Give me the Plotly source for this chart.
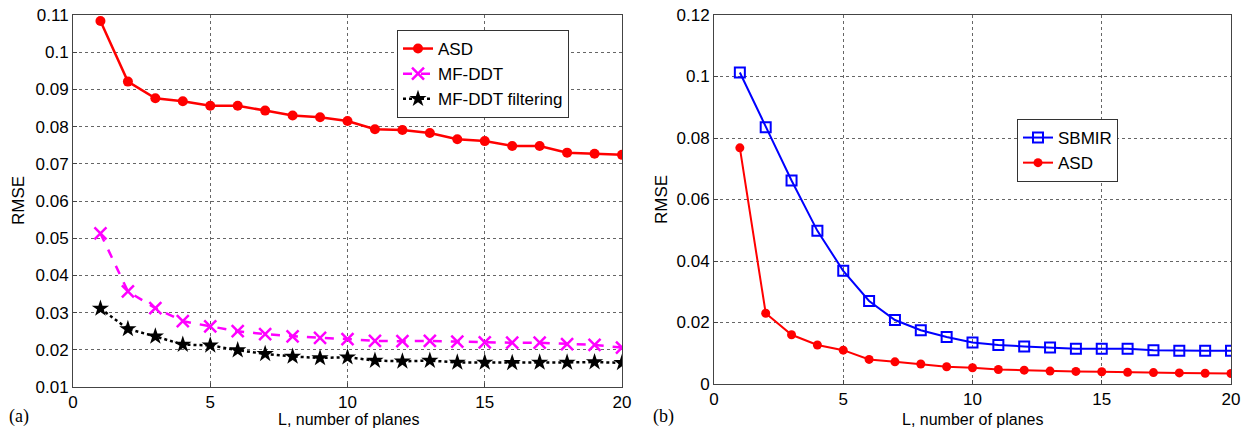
import plotly.graph_objects as go

# ---- data ----
L = list(range(1, 21))

asd_a = [0.1084, 0.0921, 0.0876, 0.0868, 0.0856, 0.0856, 0.0843, 0.0830, 0.0825, 0.0815,
         0.0793, 0.0791, 0.0783, 0.0766, 0.0761, 0.0748, 0.0748, 0.0730, 0.0727, 0.0724]
mfddt_a = [0.0513, 0.0357, 0.0312, 0.0277, 0.0263, 0.0250, 0.0242, 0.0236, 0.0232, 0.0229,
           0.0224, 0.0223, 0.0224, 0.0222, 0.0220, 0.0219, 0.0219, 0.0215, 0.0213, 0.0206]
mfddt_filt_a = [0.0311, 0.0256, 0.0236, 0.0214, 0.0212, 0.0199, 0.0189, 0.0182, 0.0178, 0.0180,
                0.0171, 0.0169, 0.0171, 0.0166, 0.0166, 0.0165, 0.0166, 0.0166, 0.0167, 0.0165]

sbmir_b = [0.1013, 0.0835, 0.0662, 0.0498, 0.0368, 0.0270, 0.0208, 0.0175, 0.0153, 0.0135,
           0.0127, 0.0122, 0.0119, 0.0115, 0.0115, 0.0115, 0.0110, 0.0108, 0.0108, 0.0108]
asd_b = [0.0768, 0.0230, 0.0160, 0.0127, 0.0110, 0.0080, 0.0072, 0.0065, 0.0056, 0.0053,
         0.0047, 0.0045, 0.0042, 0.0041, 0.0040, 0.0038, 0.0037, 0.0036, 0.0035, 0.0034]

x_ticks = [0, 5, 10, 15, 20]
y_ticks_a = [0.01, 0.02, 0.03, 0.04, 0.05, 0.06, 0.07, 0.08, 0.09, 0.1, 0.11]
y_ticks_b = [0, 0.02, 0.04, 0.06, 0.08, 0.1, 0.12]

FONT = "Liberation Sans, Arial, sans-serif"
SERIF = "Liberation Serif, Times New Roman, serif"

fig = go.Figure()

fig.add_trace(go.Scatter(x=L, y=asd_a, name="ASD", mode="lines+markers",
                         line=dict(color="#ff0000", width=2.5),
                         marker=dict(symbol="circle", size=10, color="#ff0000"),
                         xaxis="x", yaxis="y", legend="legend"))
fig.add_trace(go.Scatter(x=L, y=mfddt_a, name="MF-DDT", mode="lines+markers",
                         line=dict(color="#ff00ff", width=2.5, dash="dash"),
                         marker=dict(symbol="x-thin-open", size=12, color="#ff00ff",
                                     line=dict(color="#ff00ff", width=2.5)),
                         xaxis="x", yaxis="y", legend="legend"))
fig.add_trace(go.Scatter(x=L, y=mfddt_filt_a, name="MF-DDT filtering", mode="lines+markers",
                         line=dict(color="#000000", width=2.5, dash="dot"),
                         marker=dict(symbol="star", size=13, color="#000000"),
                         xaxis="x", yaxis="y", legend="legend"))

fig.add_trace(go.Scatter(x=L, y=sbmir_b, name="SBMIR", mode="lines+markers",
                         line=dict(color="#0000ff", width=2),
                         marker=dict(symbol="square-open", size=10, color="#0000ff",
                                     line=dict(color="#0000ff", width=2)),
                         xaxis="x2", yaxis="y2", legend="legend2"))
fig.add_trace(go.Scatter(x=L, y=asd_b, name="ASD", mode="lines+markers",
                         line=dict(color="#ff0000", width=2),
                         marker=dict(symbol="circle", size=9, color="#ff0000"),
                         xaxis="x2", yaxis="y2", legend="legend2"))

W, H = 1255, 429
ax_common = dict(showline=True, mirror=True, linecolor="#444444", linewidth=1,
                 showgrid=True, gridcolor="#666666", griddash="dot", gridwidth=1,
                 zeroline=False, ticks="inside", ticklen=4, tickcolor="#444444",
                 automargin=False,
                 tickfont=dict(family=FONT, size=17, color="#000000"))

fig.update_layout(
    width=W, height=H,
    margin=dict(l=0, r=0, t=0, b=0, autoexpand=False),
    paper_bgcolor="white", plot_bgcolor="white",
    showlegend=True,
    xaxis=dict(domain=[73 / W, 622 / W], range=[0, 20], tickvals=x_ticks,
               anchor="y", **ax_common),
    yaxis=dict(domain=[1 - 387 / H, 1 - 15 / H], range=[0.01, 0.11], tickvals=y_ticks_a,
               ticktext=[f"{v:g}" for v in y_ticks_a], anchor="x", **ax_common),
    xaxis2=dict(domain=[714 / W, 1231 / W], range=[0, 20], tickvals=x_ticks,
                anchor="y2", **ax_common),
    yaxis2=dict(domain=[1 - 384 / H, 1 - 15 / H], range=[0, 0.12], tickvals=y_ticks_b,
                ticktext=[f"{v:g}" for v in y_ticks_b], anchor="x2", **ax_common),
    legend=dict(x=397 / W, y=1 - 30 / H, xanchor="left", yanchor="top",
                bgcolor="white", bordercolor="#333333", borderwidth=1,
                font=dict(family=FONT, size=17, color="#000000"),
                tracegroupgap=0, itemwidth=30),
    legend2=dict(x=1017 / W, y=1 - 119 / H, xanchor="left", yanchor="top",
                 bgcolor="white", bordercolor="#333333", borderwidth=1,
                 font=dict(family=FONT, size=17, color="#000000"),
                 tracegroupgap=0, itemwidth=30),
)

annos = [
    dict(text="RMSE", x=18 / W, y=1 - 201 / H, textangle=-90,
         font=dict(family=FONT, size=17)),
    dict(text="RMSE", x=661 / W, y=1 - 200 / H, textangle=-90,
         font=dict(family=FONT, size=17)),
    dict(text="L, number of planes", x=348 / W, y=1 - 419 / H,
         font=dict(family=FONT, size=16)),
    dict(text="L, number of planes", x=972 / W, y=1 - 419 / H,
         font=dict(family=FONT, size=16)),
    dict(text="(a)", x=19 / W, y=1 - 416 / H,
         font=dict(family=SERIF, size=18)),
    dict(text="(b)", x=664 / W, y=1 - 416 / H,
         font=dict(family=SERIF, size=18)),
]
for a in annos:
    a.update(xref="paper", yref="paper", showarrow=False, xanchor="center", yanchor="middle")
    a["font"]["color"] = "#000000"
fig.update_layout(annotations=annos)

fig.write_html("out.html",
               config={"displayModeBar": False},
               post_script="document.body.style.margin='0';document.body.style.overflow='hidden';")
